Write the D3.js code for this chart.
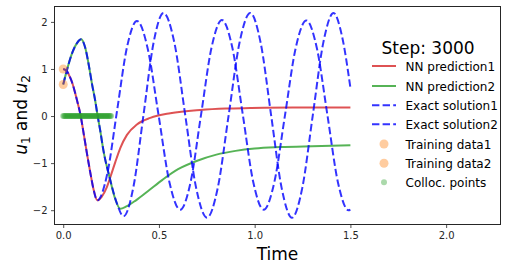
<!DOCTYPE html>
<html>
<head>
<meta charset="utf-8">
<script src="https://cdn.jsdelivr.net/npm/d3@7"></script>
<style>
  html, body { margin: 0; padding: 0; background: #fff; }
  svg { display: block; font-family: "DejaVu Sans", sans-serif; }
</style>
</head>
<body>
<svg id="chart" width="509" height="270"></svg>
<script>
// ---- data ----
const exact1 = [[0,1.0],[0.02,0.95],[0.035,0.83],[0.05,0.67],[0.063,0.48],[0.076,0.27],[0.089,0.05],[0.11,-0.45],[0.125,-0.82],[0.141,-1.19],[0.158,-1.55],[0.178,-1.79],
  [0.23,-1.23],[0.2815,0.12],[0.333,1.46],[0.385,2.02],[0.4415,1.43],[0.498,0.02],[0.5545,-1.40],[0.611,-1.99],[0.6655,-1.40],[0.72,0.03],[0.7745,1.45],[0.829,2.04],
  [0.8835,1.45],[0.938,0.03],[0.9925,-1.40],[1.047,-1.99],[1.103,-1.40],[1.1585,0.02],[1.214,1.44],[1.27,2.03],[1.325,1.44],[1.38,0.02],[1.435,-1.41],[1.49,-2.0],[1.5,-1.99]];
const exact2 = [[0,0.67],[0.019,0.97],[0.045,1.32],[0.072,1.55],[0.094,1.63],[0.115,1.45],[0.135,1.05],[0.15,0.69],[0.167,0.33],[0.178,0.05],[0.193,-0.30],[0.21,-0.73],[0.245,-1.35],[0.28,-1.85],[0.315,-2.13],
  [0.367,-1.50],[0.4195,0.03],[0.472,1.56],[0.524,2.19],[0.581,1.55],[0.6375,0.015],[0.694,-1.52],[0.751,-2.16],[0.8075,-1.52],[0.864,0.015],[0.9205,1.55],[0.977,2.19],
  [1.0315,1.55],[1.086,0.015],[1.1405,-1.52],[1.195,-2.16],[1.249,-1.52],[1.3035,0.015],[1.358,1.55],[1.412,2.19],[1.456,1.70],[1.5,0.60]];
const pred1 = [[0,1.0],[0.02,0.95],[0.035,0.83],[0.05,0.67],[0.063,0.48],[0.076,0.27],[0.089,0.05],[0.11,-0.45],[0.125,-0.82],[0.141,-1.19],[0.158,-1.55],[0.178,-1.79],
  [0.2,-1.72],[0.228,-1.51],[0.25,-1.25],[0.272,-0.98],[0.298,-0.68],[0.333,-0.40],[0.385,-0.18],[0.455,-0.04],[0.559,0.06],[0.716,0.13],[0.85,0.16],[0.977,0.17],[1.2,0.18],[1.5,0.18]];
const pred2 = [[0,0.67],[0.019,0.97],[0.045,1.32],[0.072,1.55],[0.094,1.63],[0.115,1.45],[0.135,1.05],[0.15,0.69],[0.167,0.33],[0.178,0.05],[0.193,-0.30],[0.21,-0.73],[0.245,-1.35],
  [0.27,-1.74],[0.298,-1.97],[0.33,-1.92],[0.38,-1.79],[0.45,-1.57],[0.52,-1.35],[0.6,-1.13],[0.7,-0.95],[0.8,-0.82],[0.9,-0.74],[1.0,-0.69],[1.134,-0.66],[1.3,-0.64],[1.5,-0.62]];
const trainData = [[0,1.0],[0,0.67]];
const collocT = [0,0.005,0.01,0.015,0.02,0.025,0.03,0.035,0.04,0.045,0.05,0.055,0.06,0.065,0.07,0.075,0.08,0.085,0.09,0.095,
  0.10,0.105,0.11,0.115,0.12,0.125,0.13,0.135,0.14,0.145,0.15,0.155,0.16,0.165,0.17,0.175,0.18,0.185,0.19,0.195,
  0.20,0.205,0.21,0.215,0.22,0.225,0.23,0.235,0.24,0.245,0.25];
const xTicks = [0.0, 0.5, 1.0, 1.5, 2.0];
const yTicks = [-2, -1, 0, 1, 2];
const legendLabels = ["NN prediction1","NN prediction2","Exact solution1","Exact solution2","Training data1","Training data2","Colloc. points"];
const stepLabel = "Step: 3000";

// ---- layout ----
const svg = d3.select("#chart");
const L = 54.5, R = 500.5, T = 6.5, B = 224.5;
const x = d3.scaleLinear().domain([-0.0455, 2.284]).range([L, R]);
const y = d3.scaleLinear().domain([-2.304, 2.327]).range([B, T]);

const cRed = "rgba(214,39,40,0.8)", cGreen = "rgba(44,160,44,0.8)", cBlue = "rgba(0,0,255,0.8)";
const cOrange = "rgba(255,127,14,0.4)", cColl = "rgba(44,160,44,0.4)";

const line = d3.line().x(d => x(d[0])).y(d => y(d[1])).curve(d3.curveMonotoneX);
const plot = svg.append("g");
plot.append("path").attr("d", line(pred1)).attr("fill","none").attr("stroke",cRed).attr("stroke-width",2);
plot.append("path").attr("d", line(pred2)).attr("fill","none").attr("stroke",cGreen).attr("stroke-width",2);
plot.append("path").attr("d", line(exact1)).attr("fill","none").attr("stroke",cBlue).attr("stroke-width",2).attr("stroke-dasharray","7.4,3.2");
plot.append("path").attr("d", line(exact2)).attr("fill","none").attr("stroke",cBlue).attr("stroke-width",2).attr("stroke-dasharray","7.4,3.2");
plot.selectAll("circle.tr").data(trainData).enter().append("circle")
  .attr("cx", d => x(d[0])).attr("cy", d => y(d[1])).attr("r", 4.5).attr("fill", cOrange);
plot.selectAll("circle.co").data(collocT).enter().append("circle")
  .attr("cx", d => x(d)).attr("cy", y(0)).attr("r", 3).attr("fill", cColl);

// axes
const axCol = "#262626";
const xAxis = svg.append("g").attr("transform", `translate(0,${B})`)
  .call(d3.axisBottom(x).tickValues(xTicks).tickFormat(d3.format(".1f")).tickSizeOuter(0).tickSize(3.5).tickPadding(3.5));
const yAxis = svg.append("g").attr("transform", `translate(${L},0)`)
  .call(d3.axisLeft(y).tickValues(yTicks).tickFormat(d => d < 0 ? "\u2212" + Math.abs(d) : String(d)).tickSizeOuter(0).tickSize(3.5).tickPadding(3.5));
[xAxis, yAxis].forEach(g => {
  g.select(".domain").remove();
  g.selectAll("line").attr("stroke", axCol).attr("stroke-width", 0.8);
  g.selectAll("text").attr("fill", axCol).style("font-size","10px").style("font-family","DejaVu Sans");
});
svg.append("rect").attr("x",L).attr("y",T).attr("width",R-L).attr("height",B-T)
  .attr("fill","none").attr("stroke",axCol).attr("stroke-width",1);

// axis labels
svg.append("text").attr("x", (L+R)/2).attr("y", 259.5).attr("text-anchor","middle")
  .style("font-size","17px").attr("fill","#000").text("Time");
const yl = svg.append("text").attr("transform","translate(26.5,115) rotate(-90)").attr("text-anchor","middle")
  .style("font-size","17px").attr("fill","#000");
yl.append("tspan").style("font-style","italic").text("u");
yl.append("tspan").attr("dy", 3.5).style("font-size","12px").text("1");
yl.append("tspan").attr("dy", -3.5).text(" and ");
yl.append("tspan").style("font-style","italic").text("u");
yl.append("tspan").attr("dy", 3.5).style("font-size","12px").text("2");

// legend
svg.append("text").attr("x", 381.5).attr("y", 54).style("font-size","17px").attr("fill","#000").text(stepLabel);
const rows = [66, 86, 105.3, 124.3, 144, 163.3, 182.3];
const lg = svg.append("g");
legendLabels.forEach((lab, i) => {
  const cy = rows[i];
  if (i < 4) {
    const col = [cRed, cGreen, cBlue, cBlue][i];
    const ln = lg.append("line").attr("x1",372).attr("x2",396).attr("y1",cy).attr("y2",cy)
      .attr("stroke",col).attr("stroke-width",2);
    if (i >= 2) ln.attr("stroke-dasharray","7.4,3.2");
  } else if (i < 6) {
    lg.append("circle").attr("cx",384).attr("cy",cy).attr("r",4.5).attr("fill",cOrange);
  } else {
    lg.append("circle").attr("cx",384).attr("cy",cy).attr("r",3).attr("fill",cColl);
  }
  lg.append("text").attr("x",405.5).attr("y",cy+4.5).style("font-size","12px").attr("fill","#000").text(lab);
});
</script>
</body>
</html>
